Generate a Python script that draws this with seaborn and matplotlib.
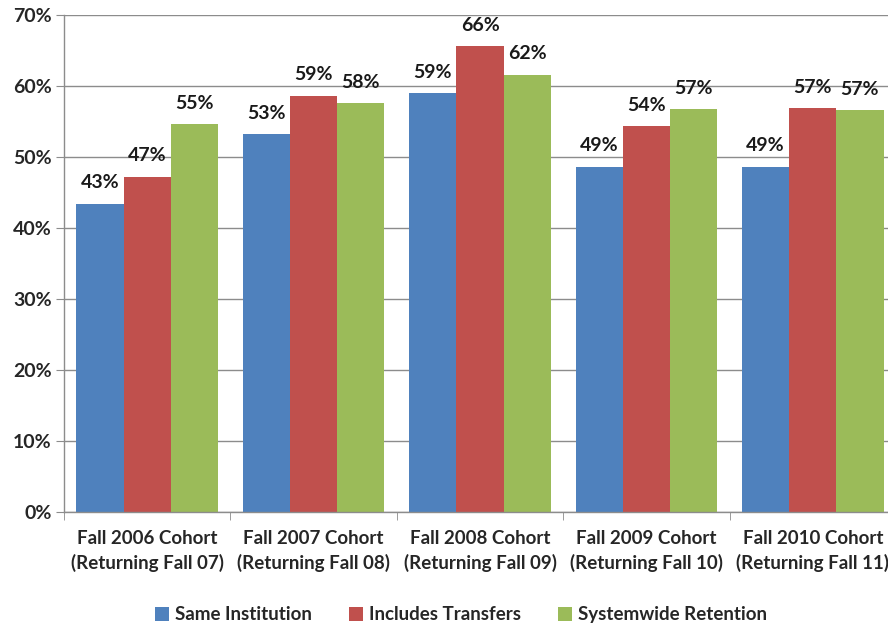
import pandas as pd
import seaborn as sns
import matplotlib.pyplot as plt
from matplotlib.ticker import FixedLocator

cohorts = ["Fall 2006 Cohort\n(Returning Fall 07)", "Fall 2007 Cohort\n(Returning Fall 08)",
           "Fall 2008 Cohort\n(Returning Fall 09)", "Fall 2009 Cohort\n(Returning Fall 10)",
           "Fall 2010 Cohort\n(Returning Fall 11)"]
series = ["Same Institution", "Includes Transfers", "Systemwide Retention"]
same_inst = [43.4, 53.2, 59.0, 48.6, 48.6]
incl_transfers = [47.2, 58.6, 65.6, 54.3, 56.9]
systemwide = [54.6, 57.6, 61.6, 56.7, 56.6]
colors = ["#4F81BD", "#C0504D", "#9BBB59"]

rows = []
for name, vals in zip(series, [same_inst, incl_transfers, systemwide]):
    for c, v in zip(cohorts, vals):
        rows.append({"cohort": c, "measure": name, "rate": v})
df = pd.DataFrame(rows)

sns.set_style("white")
plt.rcParams['font.family'] = ['Lato', 'DejaVu Sans']

fig = plt.figure(figsize=(8.88, 6.24), dpi=100)
ax = fig.add_axes([64 / 888, 112 / 624, 832 / 888, 497 / 624])

sns.barplot(data=df, x="cohort", y="rate", hue="measure", palette=colors,
            width=0.85, saturation=1, linewidth=0, ax=ax)

# labels above each bar, rounded like the original chart
for cont in ax.containers:
    ax.bar_label(cont, labels=[f"{b.get_height():.0f}%" for b in cont],
                 padding=9, fontsize=14, fontweight="bold", color="#1a1a1a")

ax.set_ylim(0, 70)
ax.set_xlim(-0.5, len(cohorts) - 0.5)
ax.set_yticks(range(0, 71, 10))
ax.set_yticklabels([f"{t}%" for t in range(0, 71, 10)], fontsize=14, fontweight="bold")
ax.set_xticklabels(cohorts, fontsize=13.5, fontweight="bold", linespacing=1.45)
ax.xaxis.set_minor_locator(FixedLocator([i + 0.5 for i in range(-1, len(cohorts))]))
ax.tick_params(axis="x", which="major", length=0, pad=13)
ax.tick_params(axis="x", which="minor", length=6, color="#8c8c8c", direction="out", bottom=True)
ax.tick_params(axis="y", length=6, color="#8c8c8c", direction="out", left=True, pad=3)
ax.set_xlabel("")
ax.set_ylabel("")

ax.yaxis.grid(True, color="#8c8c8c", linewidth=1)
ax.set_axisbelow(True)
for s in ["top", "right"]:
    ax.spines[s].set_visible(False)
for s in ["left", "bottom"]:
    ax.spines[s].set_color("#8c8c8c")
    ax.spines[s].set_linewidth(1)

sns.move_legend(ax, "center", bbox_to_anchor=(0.477, -0.207), ncol=3, frameon=False,
                title=None, fontsize=13.5, handlelength=0.75, handleheight=0.75,
                columnspacing=2.0, handletextpad=0.3)
for t in ax.get_legend().get_texts():
    t.set_fontweight("bold")

fig.savefig("out.png", dpi=100)
